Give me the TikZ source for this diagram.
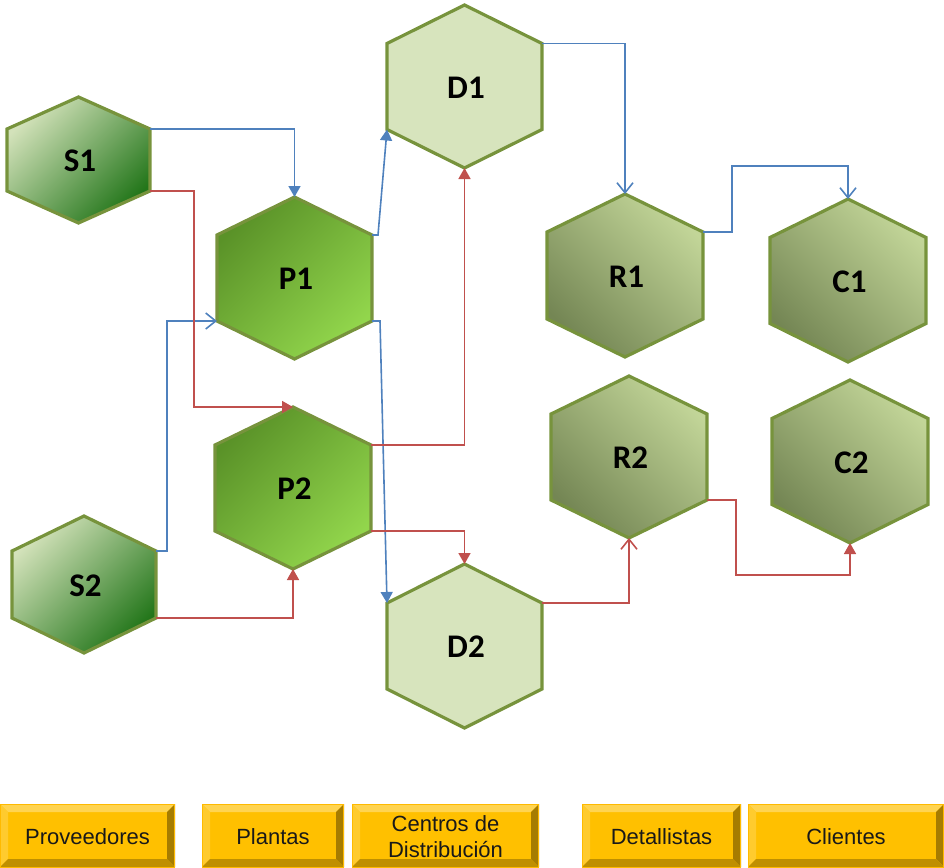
\documentclass[tikz,border=0pt]{standalone}
\usepackage{fontspec}
\setmainfont{Liberation Sans}
\newfontfamily\hexfont{Carlito}
\usetikzlibrary{arrows.meta}

\definecolor{hexline}{HTML}{77933C}
\definecolor{supA}{HTML}{D3E2BA}
\definecolor{supB}{HTML}{23761A}
\definecolor{plA}{HTML}{5A9228}
\definecolor{plB}{HTML}{92D64C}
\definecolor{depotfill}{HTML}{D7E4BD}
\definecolor{rtA}{HTML}{C2D598}
\definecolor{rtB}{HTML}{748654}
\definecolor{flowblue}{HTML}{4F81BD}
\definecolor{flowred}{HTML}{C0504D}
\definecolor{boxbody}{HTML}{FFC000}
\definecolor{bevtopc}{HTML}{FFD451}
\definecolor{bevleftc}{HTML}{FFCB2E}
\definecolor{bevrightc}{HTML}{A67C00}
\definecolor{bevbottomc}{HTML}{BF8F00}

\tikzset{
  hexborder/.style={draw=hexline, line width=3.2pt, line join=miter},
  supplier/.style={hexborder, top color=supA, bottom color=supB, shading angle=45},
  plant/.style={hexborder, top color=plA, bottom color=plB, shading angle=45},
  depot/.style={hexborder, fill=depotfill},
  retail/.style={hexborder, top color=rtA, bottom color=rtB, shading angle=-45},
  hexlabel/.style={font=\hexfont\bfseries\fontsize{33}{33}\selectfont, inner sep=0pt},
  boxtext/.style={font=\fontsize{22}{26}\selectfont, align=center, inner sep=0pt, text=black!90},
  flowb/.style={draw=flowblue, line width=1.6pt},
  flowr/.style={draw=flowred, line width=1.6pt},
  solidtip/.style={-{Triangle[length=11pt,width=12pt]}},
  opentip/.style={-{Straight Barb[length=10pt,width=16pt]}},
}

% hexagon with pointed top and bottom:
% #1 name, #2 cx, #3 cy, #4 half width, #5 half height, #6 half side, #7 style, #8 label
\newcommand\hexat[8]{%
  \path[#7] (#2-#4,#3-#6) -- (#2,#3-#5) -- (#2+#4,#3-#6) -- (#2+#4,#3+#6)
    -- (#2,#3+#5) -- (#2-#4,#3+#6) -- cycle;
  \coordinate (#1-tl) at (#2-#4,#3-#6);
  \coordinate (#1-t)  at (#2,#3-#5);
  \coordinate (#1-tr) at (#2+#4,#3-#6);
  \coordinate (#1-br) at (#2+#4,#3+#6);
  \coordinate (#1-b)  at (#2,#3+#5);
  \coordinate (#1-bl) at (#2-#4,#3+#6);
  \node[hexlabel] (#1) at (#2+1.5,#3+1) {#8};
}

% bevelled label box: #1 name, #2 left, #3 right, #4 text
\newcommand\rolebox[4]{%
  \fill[boxbody] (#2,804) rectangle (#3,867);
  \fill[bevtopc] (#2,804) -- (#3,804) -- (#3-8,812) -- (#2+8,812) -- cycle;
  \fill[bevleftc] (#2,804) -- (#2+8,812) -- (#2+8,859) -- (#2,867) -- cycle;
  \fill[bevrightc] (#3,804) -- (#3,867) -- (#3-8,859) -- (#3-8,812) -- cycle;
  \fill[bevbottomc] (#2,867) -- (#3,867) -- (#3-8,859) -- (#2+8,859) -- cycle;
  \draw[boxbody!90!orange, line width=0.8pt] (#2+0.4,804.4) rectangle (#3-0.4,867);
  \node[boxtext] (#1) at ({(#2+#3)/2},836.5) {#4};
}

\begin{document}
\begin{tikzpicture}[x=1pt, y=-1pt]
\useasboundingbox (0,0) rectangle (944,867);

% suppliers, plants, distribution centres, retailers, customers
\hexat{S1}{78.5}{160}{71.5}{63}{31}{supplier}{S1}
\hexat{S2}{84}{584.5}{72}{68.5}{33.5}{supplier}{S2}
\hexat{P1}{294.5}{278}{77.5}{81}{43}{plant}{P1}
\hexat{P2}{293}{488}{78}{81}{43}{plant}{P2}
\hexat{D1}{464.5}{86.5}{77.5}{81.5}{43}{depot}{D1}
\hexat{D2}{464.5}{646}{77.5}{82}{43}{depot}{D2}
\hexat{R1}{625}{275.5}{78}{81.5}{43.5}{retail}{R1}
\hexat{C1}{848}{280.5}{78}{81.5}{43}{retail}{C1}
\hexat{R2}{629}{457}{78}{81}{43}{retail}{R2}
\hexat{C2}{850}{461.5}{78}{81.5}{43}{retail}{C2}

% blue flows
\draw[flowb, solidtip] (S1-tr) -| (P1-t);
\draw[flowb, opentip] (S2-tr) -- ++(11,0) |- (P1-bl);
\draw[flowb, solidtip] (P1-tr) -- ++(6,0) -- (D1-bl);
\draw[flowb, solidtip] (P1-br) -- ++(8,0) -- (D2-tl);
\draw[flowb, opentip] (D1-tr) -| (R1-t);
\draw[flowb, opentip] (R1-tr) -- ++(29,0) |- ([yshift=33pt]C1-t) -- (C1-t);

% red flows
\draw[flowr, solidtip] (S1-br) -- ++(44,0) |- (P2-t);
\draw[flowr, solidtip] (S2-br) -| (P2-b);
\draw[flowr, solidtip] (P2-tr) -| (D1-b);
\draw[flowr, solidtip] (P2-br) -| (D2-t);
\draw[flowr, opentip] (D2-tr) -| (R2-b);
\draw[flowr, solidtip] (R2-br) -- ++(29,0) |- ([yshift=-32pt]C2-b) -- (C2-b);

% tier labels
\rolebox{lp}{0}{175}{Proveedores}
\rolebox{lpl}{202}{344}{Plantas}
\rolebox{lcd}{352}{539}{Centros de\\Distribución}
\rolebox{ld}{582}{741}{Detallistas}
\rolebox{lc}{748}{944}{Clientes}
\end{tikzpicture}
\end{document}
